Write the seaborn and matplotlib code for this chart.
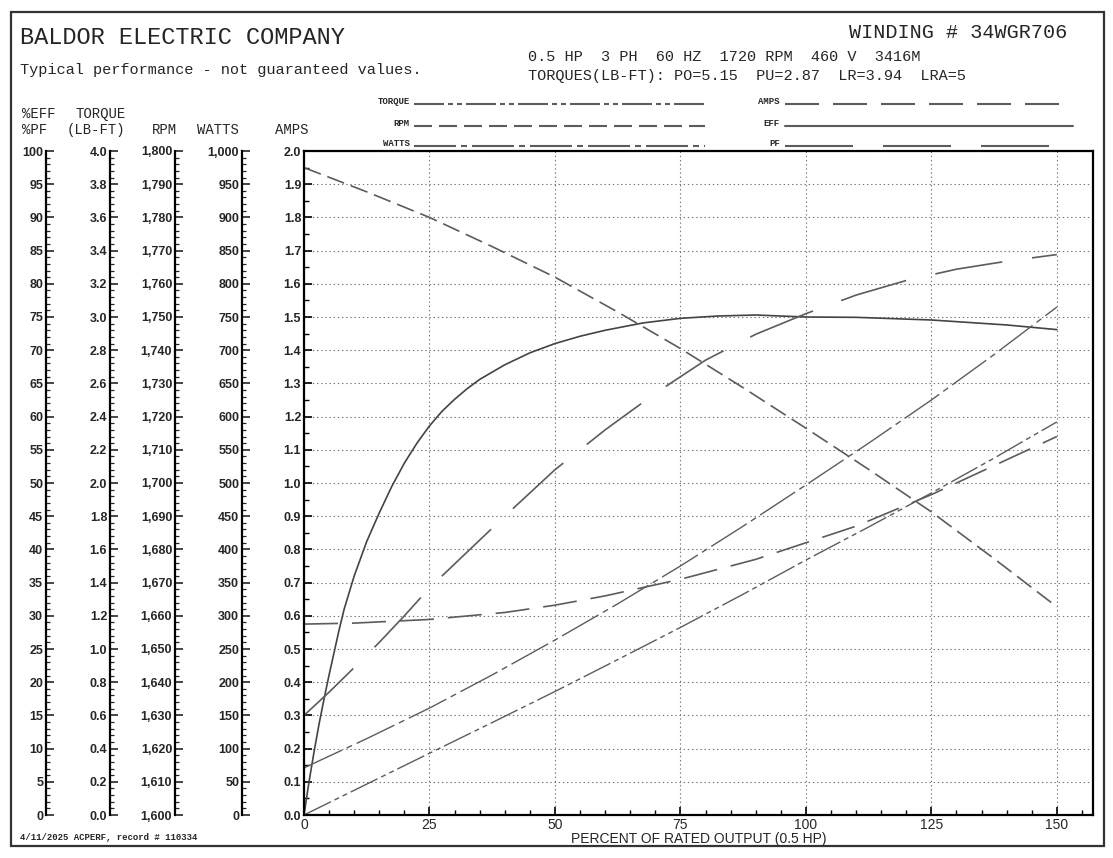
import seaborn as sns
import matplotlib.pyplot as plt
from matplotlib.patches import Rectangle
from matplotlib.ticker import MultipleLocator, FuncFormatter

# values, x = percent of rated output
eff_x = [0, 1, 2, 3, 4, 5, 6, 7, 8, 10, 12.5, 15, 17.5, 20, 22.5, 25, 27.5, 30, 32.5, 35, 40, 45, 50,
         55, 60, 67.5, 75, 82.5, 90, 100, 110, 125, 140, 150]
eff_pct = [0, 5, 9.5, 13.7, 17.5, 21.1, 24.5, 27.9, 31, 36, 41.2, 45.5, 49.5, 53, 56, 58.6, 60.8, 62.6, 64.2, 65.6,
           67.8, 69.6, 71, 72.1, 73, 74.1, 74.8, 75.15, 75.3, 75, 74.95, 74.55, 73.8, 73.1]

pf_x = [0, 5, 10, 15, 20, 25, 30, 35, 40, 50, 60, 70, 80, 90, 100, 110, 120, 130, 140, 150]
pf_pct = [15, 18.5, 22.2, 26, 30, 34.2, 37.8, 41.4, 45, 52, 58, 63.5, 68.5, 72.4, 75.5, 78.3, 80.5, 82.2, 83.4, 84.4]

amps_x = [0, 10, 25, 40, 50, 60, 75, 90, 100, 110, 125, 140, 150]
amps = [0.575, 0.578, 0.589, 0.61, 0.632, 0.66, 0.71, 0.77, 0.82, 0.87, 0.965, 1.07, 1.14]

load_x = [0, 12.5, 25, 37.5, 50, 62.5, 75, 87.5, 100, 112.5, 125, 137.5, 150]
torque = [0, 0.186, 0.372, 0.557, 0.744, 0.936, 1.13, 1.33, 1.536, 1.735, 1.94, 2.15, 2.368]
watts = [71, 115, 161, 211, 263.5, 318, 375, 435, 497, 560, 625, 693.5, 765]
rpm = [1795, 1787.7, 1780, 1771.2, 1762, 1751.5, 1740.5, 1728.7, 1716.5, 1704.1, 1691.3, 1677.2, 1662.7]

xticks = [0, 25, 50, 75, 100, 125, 150]

W, H = 1113, 858
sns.set_style('white')
plt.rcParams['font.family'] = ['Liberation Sans', 'DejaVu Sans']
plt.rcParams['lines.scale_dashes'] = False

fig = plt.figure(figsize=(W / 100, H / 100), dpi=100)


def fx(x):
    return x / W


def fy(y):
    return 1 - y / H


def pt(*px):
    return tuple(p * 0.72 for p in px)


mono = 'Liberation Mono'
grey = '#5c5c5c'
styles = {
    'TORQUE': (0, pt(30, 4, 5, 4, 5, 4)),
    'RPM': (0, pt(18, 7)),
    'WATTS': (0, pt(42, 5, 6, 5)),
    'AMPS': (0, pt(34, 14)),
    'EFF': '-',
    'PF': (0, pt(68, 30)),
}

# outer frame
fig.add_artist(Rectangle((fx(11), fy(846)), fx(1104) - fx(11), fy(12) - fy(846),
                         transform=fig.transFigure, fill=False, lw=1.6, ec='#333333'))

ax_bot, ax_top = 815, 151
ax = fig.add_axes([fx(304), fy(ax_bot), fx(1093) - fx(304), fy(ax_top) - fy(ax_bot)])

# everything drawn on the amps scale (0-2)
sns.lineplot(x=eff_x, y=[v / 50 for v in eff_pct], ax=ax, color='#444444', lw=1.2, ls=styles['EFF'])
sns.lineplot(x=pf_x, y=[v / 50 for v in pf_pct], ax=ax, color=grey, lw=1.2, ls=styles['PF'])
sns.lineplot(x=amps_x, y=amps, ax=ax, color=grey, lw=1.2, ls=styles['AMPS'])
sns.lineplot(x=load_x, y=[v / 2 for v in torque], ax=ax, color=grey, lw=1.0, ls=styles['TORQUE'])
sns.lineplot(x=load_x, y=[v / 500 for v in watts], ax=ax, color=grey, lw=1.0, ls=styles['WATTS'])
sns.lineplot(x=load_x, y=[(v - 1600) / 100 for v in rpm], ax=ax, color=grey, lw=1.2, ls=styles['RPM'])

ax.set_xlim(0, 157.2)
ax.set_ylim(0, 2)
ax.set_xticks(xticks)
ax.xaxis.set_minor_locator(MultipleLocator(5))
ax.yaxis.set_major_locator(MultipleLocator(0.1))
ax.yaxis.set_minor_locator(MultipleLocator(0.05))
ax.yaxis.set_major_formatter(FuncFormatter(lambda v, p: f'{v:.1f}'))
ax.grid(True, which='major', color='#777777', lw=0.8, ls=(0, (1, 2)))
ax.tick_params(axis='both', which='both', left=True, bottom=True)
ax.tick_params(axis='both', which='major', direction='in', length=6, width=1.2, color='black')
ax.tick_params(axis='both', which='minor', direction='in', length=3.5, width=1.0, color='black')
ax.tick_params(axis='x', labelsize=10, pad=2)
ax.tick_params(axis='y', labelsize=9, pad=2)
for lab in ax.get_yticklabels():
    lab.set_fontweight('bold')
for s in ax.spines.values():
    s.set_linewidth(1.6)
    s.set_color('black')
ax.set_xlabel('PERCENT OF RATED OUTPUT (0.5 HP)', fontsize=10, labelpad=0)
ax.set_ylabel('')

# extra scales on the left
scales = [
    (46, 0, 100, 5, 1, lambda v, p: f'{v:.0f}'),
    (110, 0, 4, 0.2, 0.04, lambda v, p: f'{v:.1f}'),
    (175, 1600, 1800, 10, 2, lambda v, p: f'{v:,.0f}'),
    (242, 0, 1000, 50, 10, lambda v, p: f'{v:,.0f}'),
]
for xpx, lo, hi, major, minor, fmt in scales:
    a = fig.add_axes([fx(xpx), fy(ax_bot), 0.0005, fy(ax_top) - fy(ax_bot)])
    a.set_ylim(lo, hi)
    a.set_xticks([])
    a.yaxis.set_major_locator(MultipleLocator(major))
    a.yaxis.set_minor_locator(MultipleLocator(minor))
    a.yaxis.set_major_formatter(FuncFormatter(fmt))
    for side in ['top', 'right', 'bottom']:
        a.spines[side].set_visible(False)
    a.spines['left'].set_linewidth(1.6)
    a.spines['left'].set_color('black')
    a.tick_params(axis='y', which='both', left=True)
    a.tick_params(axis='y', which='major', direction='in', length=6, width=1.2, labelsize=9, pad=2)
    a.tick_params(axis='y', which='minor', direction='in', length=3, width=0.9)
    for lab in a.get_yticklabels():
        lab.set_fontweight('bold')
    a.patch.set_alpha(0)

# scale headers
hdr = dict(family=mono, fontsize=10, va='center')
fig.text(fx(22), fy(114), '%EFF', ha='left', **hdr)
fig.text(fx(22), fy(130), '%PF', ha='left', **hdr)
fig.text(fx(101), fy(114), 'TORQUE', ha='center', **hdr)
fig.text(fx(96), fy(130), '(LB-FT)', ha='center', **hdr)
fig.text(fx(164), fy(130), 'RPM', ha='center', **hdr)
fig.text(fx(218), fy(130), 'WATTS', ha='center', **hdr)
fig.text(fx(292), fy(130), 'AMPS', ha='center', **hdr)

# titles and motor data
fig.text(fx(20), fy(37), 'BALDOR ELECTRIC COMPANY', family=mono, fontsize=17, va='center')
fig.text(fx(20), fy(70), 'Typical performance - not guaranteed values.', family=mono, fontsize=11, va='center')
fig.text(fx(1067), fy(32), 'WINDING # 34WGR706', family=mono, fontsize=14.5, va='center', ha='right')
fig.text(fx(528), fy(57), '0.5 HP  3 PH  60 HZ  1720 RPM  460 V  3416M', family=mono, fontsize=11, va='center')
fig.text(fx(528), fy(76), 'TORQUES(LB-FT): PO=5.15  PU=2.87  LR=3.94  LRA=5', family=mono, fontsize=11, va='center')
fig.text(fx(20), fy(837), '4/11/2025 ACPERF, record # 110334', family=mono, fontsize=6.5, va='center', fontweight='bold')

# legend key
leg = fig.add_axes([0, 0, 1, 1])
leg.set_xlim(0, W)
leg.set_ylim(H, 0)
leg.axis('off')
leg.patch.set_alpha(0)
keys = [
    ('TORQUE', 410, 414, 705, 102),
    ('RPM', 410, 414, 705, 124),
    ('WATTS', 410, 414, 705, 144),
    ('AMPS', 780, 785, 1068, 102),
    ('EFF', 780, 785, 1073, 124),
    ('PF', 780, 785, 1055, 144),
]
for name, tx, x0, x1, y in keys:
    leg.text(tx, y, name, family=mono, fontsize=6.5, fontweight='bold', ha='right', va='center')
    leg.plot([x0, x1], [y + 2, y + 2], color=grey, lw=1.5, ls=styles[name])

fig.savefig('out.png', dpi=100)
